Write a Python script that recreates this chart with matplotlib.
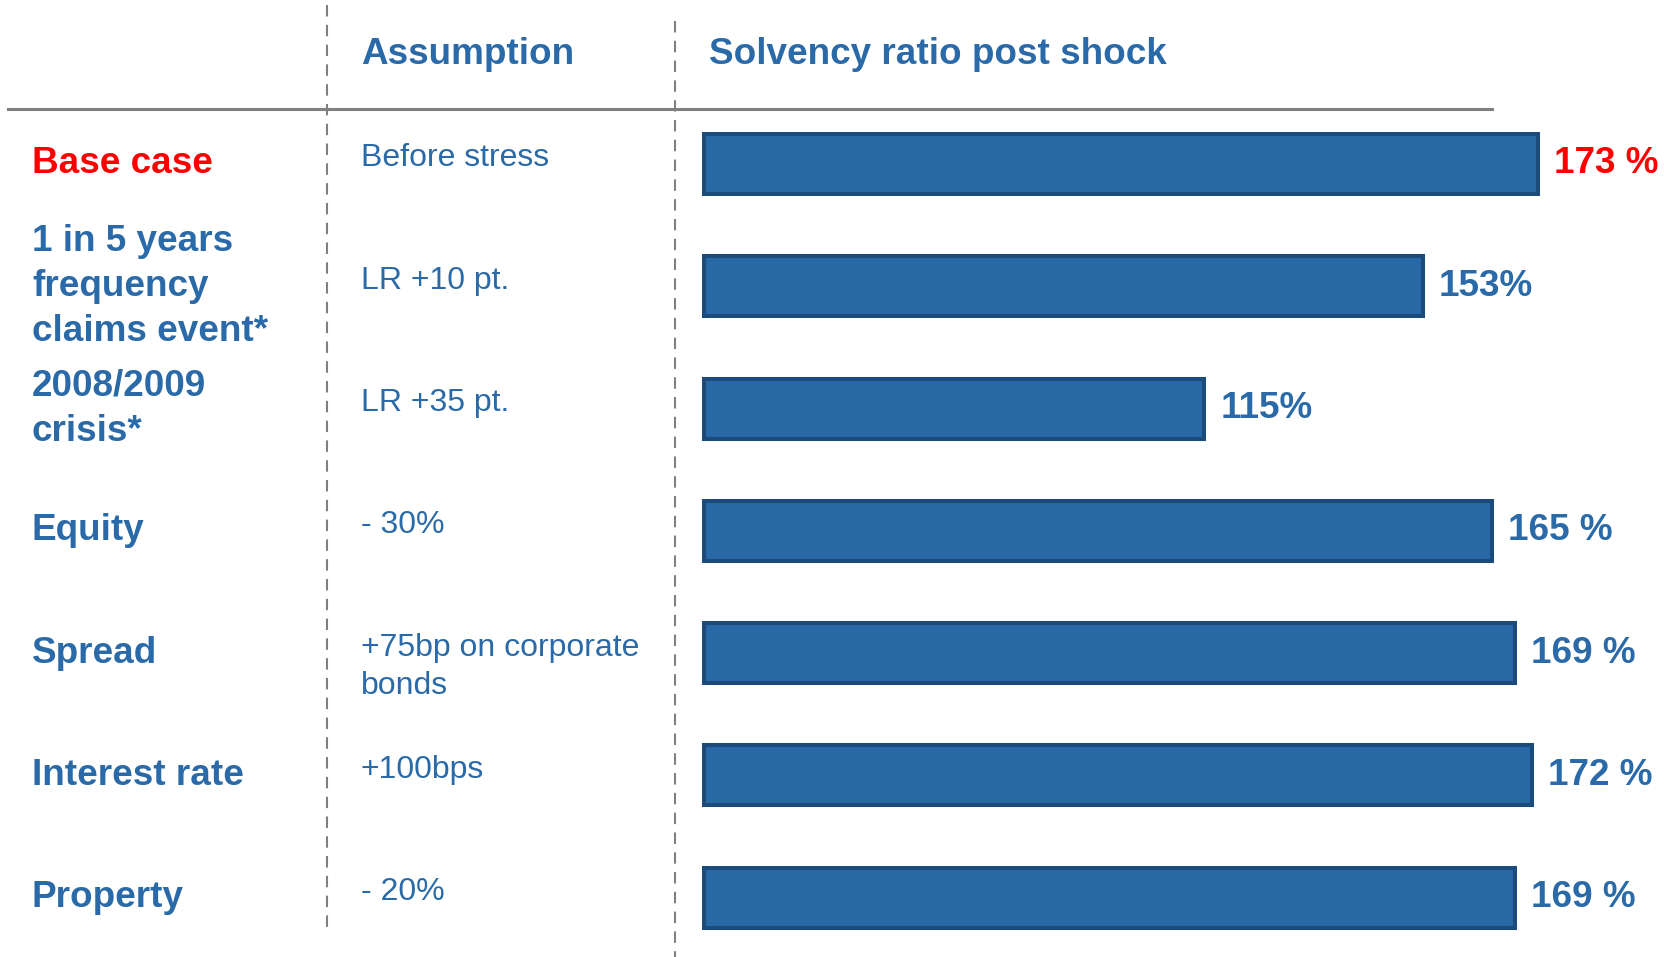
import numpy as np
import matplotlib.pyplot as plt

plt.rcParams['font.family'] = ['Liberation Sans', 'DejaVu Sans']

# Daten
scenarios = ["Base case", "1 in 5 years\nfrequency\nclaims event*", "2008/2009\ncrisis*",
             "Equity", "Spread", "Interest rate", "Property"]
assumptions = ["Before stress", "LR +10 pt.", "LR +35 pt.", "- 30%",
               "+75bp on corporate\nbonds", "+100bps", "- 20%"]
solvency = np.array([173, 153, 115, 165, 169, 172, 169])
value_labels = ["173 %", "153%", "115%", "165 %", "169 %", "172 %", "169 %"]

blue = "#2A6AA8"
red = "#FF0000"
bar_fill = "#2868A5"
bar_edge = "#1C4A7A"
grey = "#808080"

# Layout (pixels)
W, H = 1665, 957
base = 28            # value at bar start
px_per = 5.75        # pixels per % point
bar_x0 = 704
row0, row_step = 164, 122.3

fig = plt.figure(figsize=(W / 100, H / 100), dpi=100)
ax = fig.add_axes([0, 0, 1, 1])
ax.set_xlim(base - bar_x0 / px_per, base + (W - bar_x0) / px_per)
ax.set_ylim((H - row0) / row_step, -row0 / row_step)
ax.axis('off')

y = np.arange(len(solvency))
ax.barh(y, solvency - base, left=base, height=60 / row_step,
        color=bar_fill, edgecolor=bar_edge, linewidth=2.9)

# Werte rechts neben den Balken
for i, (v, lab) in enumerate(zip(solvency, value_labels)):
    ax.text(v + 16 / px_per, i, lab, ha='left', va='center',
            fontsize=26.6, fontweight='bold', color=red if i == 0 else blue)

# linke Spalten
tr = ax.get_yaxis_transform()
for i, (s, a) in enumerate(zip(scenarios, assumptions)):
    ax.text(32 / W, i, s, transform=tr, ha='left', va='center',
            fontsize=26.6, fontweight='bold', color=red if i == 0 else blue,
            linespacing=1.37)
    ax.text(361 / W, i - 20.5 / row_step, a, transform=tr, ha='left', va='top',
            fontsize=23, color=blue, linespacing=1.34)

# Kopfzeile
ax.text(361 / W, 1 - 55 / H, "Assumption", transform=ax.transAxes,
        ha='left', va='center', fontsize=26.6, fontweight='bold', color=blue)
ax.text(709 / W, 1 - 55 / H, "Solvency ratio post shock", transform=ax.transAxes,
        ha='left', va='center', fontsize=26.6, fontweight='bold', color=blue)

# Linien
ax.plot([8 / W, 1492 / W], [1 - 109 / H] * 2, transform=ax.transAxes,
        color=grey, linewidth=2.2, clip_on=False)
ax.plot([327 / W] * 2, [1 - 5 / H, 1 - 929 / H], transform=ax.transAxes,
        color=grey, linewidth=1.5, dashes=[5.5, 4], clip_on=False)
ax.plot([675 / W] * 2, [1 - 21 / H, 0], transform=ax.transAxes,
        color=grey, linewidth=1.5, dashes=[5.5, 4], clip_on=False)

plt.savefig('out.png', dpi=100)
